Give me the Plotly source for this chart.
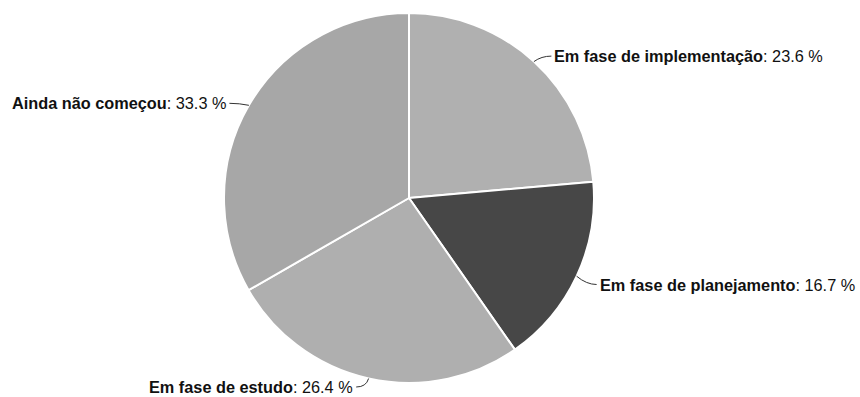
import math
import plotly.graph_objects as go

# Status distribution
labels = ["Em fase de implementação", "Em fase de planejamento", "Em fase de estudo", "Ainda não começou"]
values = [23.6, 16.7, 26.4, 33.3]
colors = ["#b0b0b0", "#474747", "#afafaf", "#a7a7a7"]

W, H = 860, 397
cx, cy, r = 409, 198, 185

fig = go.Figure()
fig.add_trace(go.Pie(
    labels=labels,
    values=values,
    sort=False,
    direction="clockwise",
    rotation=0,
    textinfo="none",
    hoverinfo="label+percent",
    marker=dict(colors=colors, line=dict(color="#ffffff", width=2)),
    domain=dict(x=[(cx - r) / W, (cx + r) / W], y=[(H - cy - r) / H, (H - cy + r) / H]),
    showlegend=False,
))

# data labels with soft connectors, placed from each slice's mid angle
total = sum(values)
start = 0.0
shapes, annotations = [], []
for name, v in zip(labels, values):
    frac = v / total
    mid = (start + frac / 2) * 2 * math.pi
    start += frac
    s, c = math.sin(mid), math.cos(mid)
    side = 1 if s >= 0 else -1
    ex, ey = cx + r * s, cy - r * c               # point on the rim
    px, py = cx + (r + 11) * s, cy - (r + 11) * c  # pushed outwards
    lx = px + side * 10                            # connector end
    ly = min(py + 4 * abs(s), H - 10)              # keep the label inside
    shapes.append(dict(
        type="path", xref="x", yref="y",
        path=f"M {ex:.1f},{ey:.1f} Q {px:.1f},{ly:.1f} {lx:.1f},{ly:.1f}",
        line=dict(color="#333333", width=1),
    ))
    annotations.append(dict(
        x=lx + side * 1, y=ly, xref="x", yref="y",
        xanchor="left" if side > 0 else "right", yanchor="middle",
        text=f"<b>{name}</b>: {v} %",
        showarrow=False,
        font=dict(family="Liberation Sans, Arial, sans-serif", size=16.3, color="#111111"),
    ))

fig.update_layout(
    width=W, height=H,
    margin=dict(l=0, r=0, t=0, b=0),
    paper_bgcolor="#ffffff",
    plot_bgcolor="rgba(0,0,0,0)",
    xaxis=dict(range=[0, W], visible=False, fixedrange=True),
    yaxis=dict(range=[H, 0], visible=False, fixedrange=True),
    shapes=shapes,
    annotations=annotations,
)

fig.write_html("out.html")
